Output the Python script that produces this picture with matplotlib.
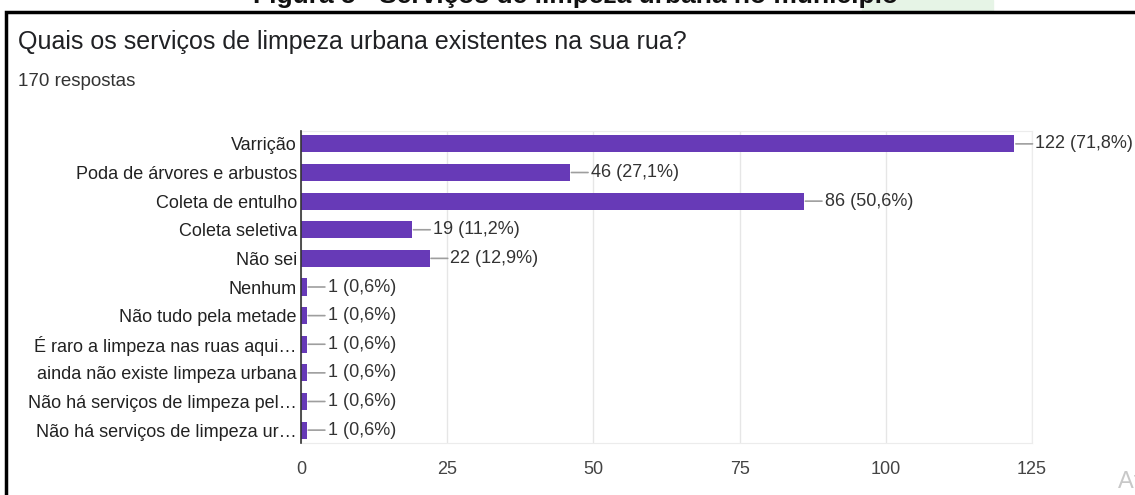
import matplotlib.pyplot as plt
from matplotlib.patches import Rectangle

plt.rcParams['font.family'] = ['Liberation Sans', 'DejaVu Sans']

# data
categorias = ["Varrição", "Poda de árvores e arbustos", "Coleta de entulho",
              "Coleta seletiva", "Não sei", "Nenhum", "Não tudo pela metade",
              "É raro a limpeza nas ruas aqui…", "ainda não existe limpeza urbana",
              "Não há serviços de limpeza pel…", "Não há serviços de limpeza ur…"]
respostas = [122, 46, 86, 19, 22, 1, 1, 1, 1, 1, 1]
percentuais = ["71,8%", "27,1%", "50,6%", "11,2%", "12,9%", "0,6%", "0,6%",
               "0,6%", "0,6%", "0,6%", "0,6%"]
ticks_x = [0, 25, 50, 75, 100, 125]

W, H = 1135, 495
fig = plt.figure(figsize=(W / 100, H / 100), dpi=100)

# caption cut at the top + green smudge
fig.patches.append(Rectangle((862 / W, 1 - 10 / H), 131 / W, 10 / H,
                             transform=fig.transFigure, color='#e6f4e6', zorder=0))
fig.text(576 / W, 1 - 3 / H, "Figura 5 - Serviços de limpeza urbana no município",
         ha='center', va='baseline', fontsize=19, fontweight='bold', color='#111')

# black frame
fig.patches.append(Rectangle((5.5 / W, -0.1), 1.2, 1 - 11.5 / H + 0.1,
                             transform=fig.transFigure, fill=False,
                             edgecolor='black', linewidth=2.5, zorder=5))

fig.text(18 / W, 1 - 42 / H, "Quais os serviços de limpeza urbana existentes na sua rua?",
         ha='left', va='center', fontsize=18, color='#202124')
fig.text(18 / W, 1 - 81 / H, "170 respostas", ha='left', va='center',
         fontsize=13.5, color='#333')

ax = fig.add_axes([301 / W, 52 / H, (1032 - 301) / W, (443 - 131) / H])
y = list(range(len(categorias)))
ax.barh(y, respostas, height=0.6, color='#673ab7', zorder=3)
for yi, v, p in zip(y, respostas, percentuais):
    ax.annotate(f"{v} ({p})", xy=(v, yi), xytext=(15, 0), textcoords='offset points',
                va='center', ha='left', fontsize=13, color='#333',
                arrowprops=dict(arrowstyle='-', color='#9e9e9e', lw=1.2,
                                shrinkA=0, shrinkB=1))

ax.set_xlim(0, 125)
ax.set_ylim(10.45, -0.45)
ax.set_xticks(ticks_x)
ax.set_yticks(y)
ax.set_yticklabels(categorias)
ax.tick_params(axis='y', length=0, pad=3, labelsize=13, labelcolor='#222')
ax.tick_params(axis='x', length=0, pad=13, labelsize=13, labelcolor='#444')
ax.grid(axis='x', color='#e6e6e6', lw=1, zorder=0)
for s in ['top', 'right', 'bottom']:
    ax.spines[s].set_color('#ececec')
ax.spines['left'].set_color('#333')
ax.spines['left'].set_linewidth(1.2)
ax.spines['left'].set_zorder(4)

fig.text(1118 / W, 1 - 482 / H, "Ativar o Windows", ha='left', va='center',
         fontsize=17, color='#c8c8c8')

fig.savefig('out.png', dpi=100)
